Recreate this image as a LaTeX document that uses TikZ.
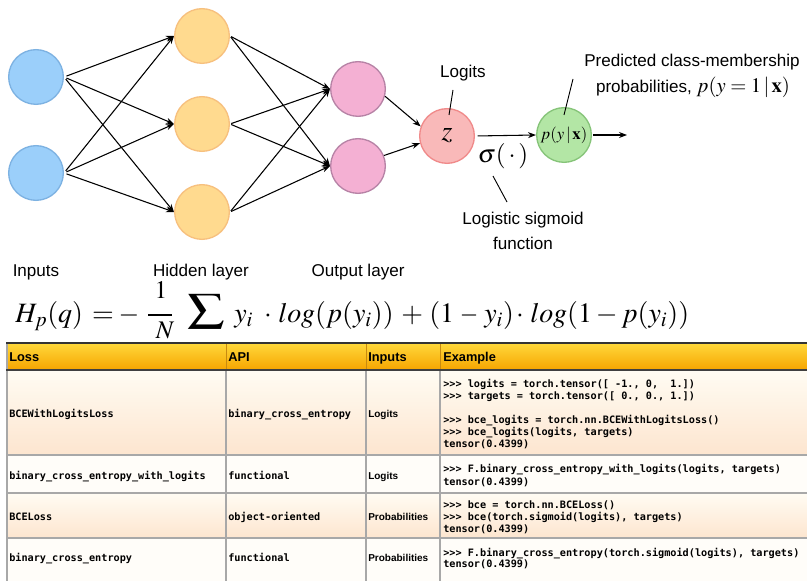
\documentclass[tikz,border=0pt]{standalone}
\usepackage{mathptmx}
\usepackage{graphicx}
\usepackage[no-math]{fontspec}
\setmainfont{Liberation Sans}
\newfontfamily\codefont{DejaVu Sans Mono}
\usetikzlibrary{arrows.meta}
\definecolor{inF}{HTML}{9BCFFA}\definecolor{inD}{HTML}{7DB2E2}
\definecolor{hiF}{HTML}{FFDA8F}\definecolor{hiD}{HTML}{F7C07E}
\definecolor{ouF}{HTML}{F4B0D3}\definecolor{ouD}{HTML}{B783A6}
\definecolor{zF}{HTML}{F9B9B9}\definecolor{zD}{HTML}{F08A8A}
\definecolor{pF}{HTML}{B3E6A5}\definecolor{pD}{HTML}{86C479}
\definecolor{hdTop}{HTML}{FFD93B}\definecolor{hdBot}{HTML}{F6A400}
\definecolor{rTop}{HTML}{FFFCF3}\definecolor{rBot}{HTML}{FDE5CF}
\definecolor{rW}{HTML}{FFFDF9}
\definecolor{gridc}{HTML}{A8A8A8}
\definecolor{hdGrid}{HTML}{C88A10}
\begin{document}
\begin{tikzpicture}[x=0.75pt,y=-0.75pt,
  neuron/.style={circle,minimum size=41pt,inner sep=0pt,line width=1pt},
  conn/.style={-{Stealth[length=6pt,width=4.5pt]},line width=0.8pt,black},
  lbl/.style={font=\fontsize{12.8pt}{15pt}\selectfont,inner sep=0pt},
  ptr/.style={line width=0.7pt,black},
  eqpart/.style={anchor=base west,inner sep=0pt,font=\fontsize{21pt}{23pt}\selectfont},
  eqmid/.style={anchor=base,inner sep=0pt,font=\fontsize{21pt}{23pt}\selectfont},
  hdrtext/.style={anchor=west,inner sep=0pt,font=\bfseries\fontsize{9.6pt}{11pt}\selectfont,text height=1.6ex,text depth=.4ex},
  codecell/.style={anchor=west,inner sep=0pt,font=\codefont\bfseries\fontsize{7.65pt}{9pt}\selectfont,text height=1.6ex,text depth=.4ex},
  sanscell/.style={anchor=west,inner sep=0pt,font=\bfseries\fontsize{7.5pt}{9pt}\selectfont,text height=1.6ex,text depth=.4ex}]
\useasboundingbox (0,0) rectangle (807,581);
\fill[white] (0,0) rectangle (807,581);
% ---------- network ----------
\node[neuron,fill=inF,draw=inD] (in1) at (36,77) {};
\node[neuron,fill=inF,draw=inD] (in2) at (36,173) {};
\node[neuron,fill=hiF,draw=hiD] (h1) at (202,36) {};
\node[neuron,fill=hiF,draw=hiD] (h2) at (202,124) {};
\node[neuron,fill=hiF,draw=hiD] (h3) at (202,212) {};
\node[neuron,fill=ouF,draw=ouD] (o1) at (358,89) {};
\node[neuron,fill=ouF,draw=ouD] (o2) at (358,166) {};
\node[neuron,fill=zF,draw=zD,font=\fontsize{21pt}{22pt}\selectfont] (z) at (447,136) {$z$};
\node[neuron,fill=pF,draw=pD,font=\fontsize{12.5pt}{14pt}\selectfont] (p) at (564,135) {$p(y\,|\,\mathbf{x})$};
\foreach \a in {in1,in2}{\foreach \b in {h1,h2,h3}{\draw[conn,shorten <=2pt] (\a.east) -- (\b.west);}}
\foreach \a in {h1,h2,h3}{\foreach \b in {o1,o2}{\draw[conn,shorten <=1pt] (\a.east) -- (\b.west);}}
\draw[conn] (o1.-15) -- (z.160);
\draw[conn] (o2.22) -- (z.195);
\draw[conn,shorten <=2pt] (z.east) -- (p.west);
\coordinate (pend) at (627,135);
\draw[conn,shorten <=1pt] (p.east) -- (pend);
\node[inner sep=0pt,font=\fontsize{19pt}{20pt}\selectfont] (sig) at (503,156) {$\sigma(\,\cdot\,)$};
% labels
\node[lbl] (lin) at (36,272) {Inputs};
\node[lbl] (lhid) at (201,272) {Hidden layer};
\node[lbl] (lout) at (358,272) {Output layer};
\node[lbl] (llog) at (463,73) {Logits};
\node[lbl] (lpred1) at (692,62) {Predicted class-membership};
\node[lbl] (lpred2) at (693,87) {probabilities, {\fontsize{15.5pt}{16pt}\selectfont$p(y=1\,|\,\mathbf{x})$}};
\node[lbl,align=center,font=\fontsize{12.8pt}{18.3pt}\selectfont] (lsig) at (523,231) {Logistic sigmoid\\function};
\coordinate (a1) at (453,90); \coordinate (a2) at (449,115);
\draw[ptr] (a1) -- (a2);
\coordinate (b1) at (573,79); \coordinate (b2) at (564,115);
\draw[ptr] (b1) -- (b2);
\coordinate (c1) at (493,176); \coordinate (c2) at (507,202);
\draw[ptr] (c1) -- (c2);
% ---------- equation ----------
\node[eqpart] (eqA) at (15,322) {$H_p(q)$};
\node[eqmid] (eqB) at (103,322) {$=$};
\node[eqmid] (eqC) at (129,322) {\scalebox{0.95}[1]{$-$}};
\node[anchor=base,inner sep=0pt,font=\fontsize{19pt}{20pt}\selectfont] (eqD1) at (161,298) {$1$};
\coordinate (fb1) at (148,315); \coordinate (fb2) at (172,315);
\draw[line width=0.9pt] (fb1) -- (fb2);
\node[anchor=base,inner sep=0pt,font=\fontsize{19pt}{20pt}\selectfont] (eqD2) at (165,338) {$N$};
\node[inner sep=0pt,font=\fontsize{22pt}{24pt}\selectfont] (eqE) at (206,312) {\scalebox{1.25}[0.95]{$\displaystyle\sum$}};
\node[eqpart] (eqF) at (234,322) {$y_i$};
\node[eqmid] (eqG) at (268,322) {$\cdot$};
\node[eqpart] (eqH) at (278,322) {$log(p(y_i))$};
\node[eqpart] (eqI) at (401,322) {$+$};
\node[eqpart] (eqJ) at (429,322) {$(1$};
\node[eqmid] (eqK) at (469,322) {\scalebox{0.85}[1]{$-$}};
\node[eqpart] (eqL) at (484,322) {$y_i)$};
\node[eqmid] (eqM) at (520,322) {$\cdot$};
\node[eqpart] (eqN) at (530,322) {$log(1-p(y_i))$};
% ---------- table ----------
\fill[top color=hdTop,bottom color=hdBot] (7,343) rectangle (807,370);
\fill[top color=rTop,bottom color=rBot] (7,370) rectangle (807,455);
\fill[rW] (7,455) rectangle (807,493);
\fill[top color=rTop,bottom color=rBot] (7,493) rectangle (807,538);
\fill[rW] (7,538) rectangle (807,581);
\foreach \yy in {455,493,538}{\draw[gridc,line width=0.8pt] (7,\yy) -- (807,\yy);}
\foreach \xx in {226,366,440}{\draw[gridc,line width=0.8pt] (\xx,370) -- (\xx,581);
  \draw[hdGrid,line width=0.6pt] (\xx,343) -- (\xx,370);}
\draw[gridc,line width=0.8pt] (7,343) -- (7,581);
\draw[black!80,line width=1.6pt] (6,343) -- (807,343);
\draw[black!75,line width=1.3pt] (6,370) -- (807,370);
% header
\node[hdrtext] (th1) at (9,357) {Loss};
\node[hdrtext] (th2) at (228,357) {API};
\node[hdrtext] (th3) at (368,357) {Inputs};
\node[hdrtext] (th4) at (443,357) {Example};
% row 1
\node[codecell] (r1a) at (9,413) {BCEWithLogitsLoss};
\node[codecell] (r1b) at (228,413) {binary\_cross\_entropy};
\node[sanscell] (r1c) at (368,413) {Logits};
\node[codecell] (r1e1) at (443,383) {>{}>{}> logits = torch.tensor([ -1., 0,\ \ 1.])};
\node[codecell] (r1e2) at (443,395) {>{}>{}> targets = torch.tensor([ 0., 0., 1.])};
\node[codecell] (r1e3) at (443,419) {>{}>{}> bce\_logits = torch.nn.BCEWithLogitsLoss()};
\node[codecell] (r1e4) at (443,431) {>{}>{}> bce\_logits(logits, targets)};
\node[codecell] (r1e5) at (443,443) {tensor(0.4399)};
% row 2
\node[codecell] (r2a) at (9,475) {binary\_cross\_entropy\_with\_logits};
\node[codecell] (r2b) at (228,475) {functional};
\node[sanscell] (r2c) at (368,475) {Logits};
\node[codecell] (r2e1) at (443,468) {>{}>{}> F.binary\_cross\_entropy\_with\_logits(logits, targets)};
\node[codecell] (r2e2) at (443,481) {tensor(0.4399)};
% row 3
\node[codecell] (r3a) at (9,516) {BCELoss};
\node[codecell] (r3b) at (228,516) {object-oriented};
\node[sanscell] (r3c) at (368,516) {Probabilities};
\node[codecell] (r3e1) at (443,504) {>{}>{}> bce = torch.nn.BCELoss()};
\node[codecell] (r3e2) at (443,516) {>{}>{}> bce(torch.sigmoid(logits), targets)};
\node[codecell] (r3e3) at (443,528) {tensor(0.4399)};
% row 4
\node[codecell] (r4a) at (9,557) {binary\_cross\_entropy};
\node[codecell] (r4b) at (228,557) {functional};
\node[sanscell] (r4c) at (368,557) {Probabilities};
\node[codecell] (r4e1) at (443,552) {>{}>{}> F.binary\_cross\_entropy(torch.sigmoid(logits), targets)};
\node[codecell] (r4e2) at (443,563) {tensor(0.4399)};
\end{tikzpicture}
\end{document}
